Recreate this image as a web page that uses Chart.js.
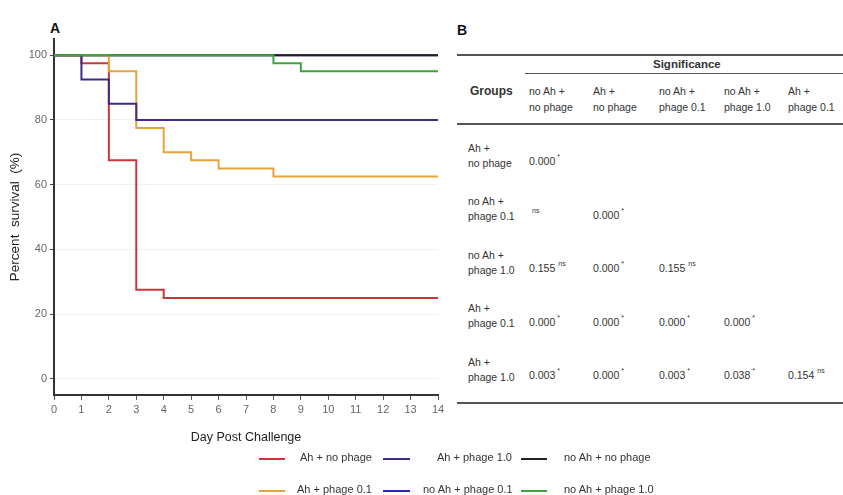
<!DOCTYPE html>
<html>
<head>
<meta charset="utf-8">
<script src="https://cdn.jsdelivr.net/npm/chart.js@4.4.1/dist/chart.umd.min.js"></script>
<style>
  body { margin:0; background:#fff; width:843px; height:495px; overflow:hidden; position:relative;
         font-family:"Liberation Sans", Arial, sans-serif; color:#333; }
  #wrap { position:absolute; left:0; top:0; width:455px; height:452px; }
  .panel { position:absolute; font-weight:bold; font-size:14px; color:#111; }
  .lg { position:absolute; font-size:11px; color:#333; white-space:nowrap; }
  .lg i { position:absolute; height:2px; top:7px; }
  .t { position:absolute; font-size:10.5px; line-height:15px; white-space:nowrap; color:#333; }
  .t sup { font-size:7px; vertical-align:6px; margin-left:1px; }
  .rule { position:absolute; background:#555; }
</style>
</head>
<body>
<div class="panel" style="left:50px;top:20px">A</div>
<div class="panel" style="left:457px;top:22px">B</div>
<div id="wrap"><canvas id="km" width="455" height="452"></canvas></div>
<div id="legend"></div>
<div id="table"></div>
<script>
// survival data (day of event, % survival after event)
let days_ah_nophage = [0, 1, 2, 3, 4, 14]
let surv_ah_nophage = [100, 97.5, 67.5, 27.5, 25, 25]
let days_ah_phage01 = [0, 2, 3, 4, 5, 6, 8, 14]
let surv_ah_phage01 = [100, 95, 77.5, 70, 67.5, 65, 62.5, 62.5]
let days_ah_phage10 = [0, 1, 2, 3, 14]
let surv_ah_phage10 = [100, 92.5, 85, 80, 80]
let days_noah_nophage = [0, 14]
let surv_noah_nophage = [100, 100]
let days_noah_phage01 = [0, 14]
let surv_noah_phage01 = [100, 100]
let days_noah_phage10 = [0, 8, 9, 14]
let surv_noah_phage10 = [100, 97.5, 95, 95]

let yTicks = [0, 20, 40, 60, 80, 100]

// table values
let tableHeads = ["no Ah +|no phage", "Ah +|no phage", "no Ah +|phage 0.1", "no Ah +|phage 1.0", "Ah +|phage 0.1"]
let tableGroups = ["Ah +|no phage", "no Ah +|phage 0.1", "no Ah +|phage 1.0", "Ah +|phage 0.1", "Ah +|phage 1.0"]
let pValues = [
    ["0.000"],
    ["", "0.000"],
    ["0.155", "0.000", "0.155"],
    ["0.000", "0.000", "0.000", "0.000"],
    ["0.003", "0.000", "0.003", "0.038", "0.154"]
]
let sigMarks = [
    ["*"],
    ["ns", "*"],
    ["ns", "*", "ns"],
    ["*", "*", "*", "*"],
    ["*", "*", "*", "*", "ns"]
]

function pts(d, s) {
    return d.map((x, i) => ({ x: x, y: s[i] }))
}

// first one is drawn on top
let series = [
    { label: "no Ah + phage 1.0", color: "#3da33d", data: pts(days_noah_phage10, surv_noah_phage10) },
    { label: "Ah + phage 1.0", color: "#3f2a86", data: pts(days_ah_phage10, surv_ah_phage10) },
    { label: "Ah + phage 0.1", color: "#e8a23a", data: pts(days_ah_phage01, surv_ah_phage01) },
    { label: "Ah + no phage", color: "#c9363a", data: pts(days_ah_nophage, surv_ah_nophage) },
    { label: "no Ah + no phage", color: "#222222", data: pts(days_noah_nophage, surv_noah_nophage) },
    { label: "no Ah + phage 0.1", color: "#2b2bb0", data: pts(days_noah_phage01, surv_noah_phage01) }
]

const ctx = document.getElementById("km").getContext("2d")

new Chart(ctx, {
    type: "line",
    data: {
        datasets: series.map(s => ({
            label: s.label,
            data: s.data,
            borderColor: s.color,
            borderWidth: 2,
            pointRadius: 0,
            stepped: "before",
            fill: false
        }))
    },
    options: {
        responsive: false,
        animation: false,
        layout: { padding: { top: 39, right: 17, left: 7, bottom: 0 } },
        plugins: { legend: { display: false }, tooltip: { enabled: false } },
        scales: {
            x: {
                type: "linear",
                min: 0,
                max: 14,
                ticks: { stepSize: 1, color: "#666", font: { size: 11, family: "Liberation Sans" }, padding: 3 },
                grid: { drawOnChartArea: false, color: "#555", tickLength: 5 },
                border: { color: "#333", width: 2 },
                title: { display: true, text: "Day Post Challenge", color: "#222", font: { size: 12.5, family: "Liberation Sans" }, padding: { top: 0, bottom: 7 } },
                afterFit: s => { s.height = 57 }
            },
            y: {
                min: -5,
                max: 105,
                afterBuildTicks: s => { s.ticks = yTicks.map(v => ({ value: v })) },
                ticks: { color: "#666", font: { size: 11, family: "Liberation Sans" }, padding: 3 },
                grid: { color: "#f0f0f0", tickColor: "#444", tickLength: 4 },
                border: { color: "#333", width: 2 },
                title: { display: true, text: "Percent  survival  (%)", color: "#222", font: { size: 13.5, family: "Liberation Sans" }, padding: 0 },
                afterFit: s => { s.width = 47 }
            }
        }
    }
})

// legend, laid out like the figure: 3 columns x 2 rows
let legendOrder = ["Ah + no phage", "Ah + phage 1.0", "no Ah + no phage", "Ah + phage 0.1", "no Ah + phage 0.1", "no Ah + phage 1.0"]
let legendLineX = [259, 383, 521]
let legendTextX = [[300, 437, 564], [297, 423, 564]]
let legendRows = [451, 483]
let lg = ""
legendOrder.forEach((name, i) => {
    let r = Math.floor(i / 3), c = i % 3
    let s = series.find(q => q.label == name)
    let w = c == 1 ? 27 : 26
    lg += `<div class="lg" style="left:${legendLineX[c]}px;top:${legendRows[r]}px;width:${w}px;height:14px"><i style="left:0;width:${w}px;background:${s.color}"></i></div>`
    lg += `<div class="lg" style="left:${legendTextX[r][c]}px;top:${legendRows[r]}px">${name}</div>`
})
document.getElementById("legend").innerHTML = lg

// significance table
let colX = [529, 593, 659, 724, 788]
let rowY = [148, 201.5, 255, 308.5, 362]
let tb = ""
tb += `<div class="rule" style="left:457px;top:54px;width:386px;height:2px"></div>`
tb += `<div class="t" style="left:653px;top:57px;font-weight:bold;font-size:11.5px">Significance</div>`
tb += `<div class="rule" style="left:525px;top:73px;width:318px;height:1px"></div>`
tb += `<div class="t" style="left:470px;top:84px;font-weight:bold;font-size:12px">Groups</div>`
tableHeads.forEach((h, i) => {
    tb += `<div class="t" style="left:${colX[i]}px;top:83px;line-height:16px">${h.replace("|", "<br>")}</div>`
})
tb += `<div class="rule" style="left:457px;top:123px;width:386px;height:2px"></div>`
tableGroups.forEach((g, r) => {
    tb += `<div class="t" style="left:468px;top:${rowY[r] - 7.5}px">${g.replace("|", "<br>")}</div>`
    pValues[r].forEach((v, c) => {
        let m = sigMarks[r][c]
        let sup = m == "*" ? `<sup style="margin-left:2px">*</sup>` : `<sup style="margin-left:3px">${m}</sup>`
        tb += `<div class="t" style="left:${colX[c]}px;top:${rowY[r] + 1}px">${v}${sup}</div>`
    })
})
tb += `<div class="rule" style="left:457px;top:402px;width:386px;height:2px"></div>`
document.getElementById("table").innerHTML = tb
</script>
</body>
</html>
